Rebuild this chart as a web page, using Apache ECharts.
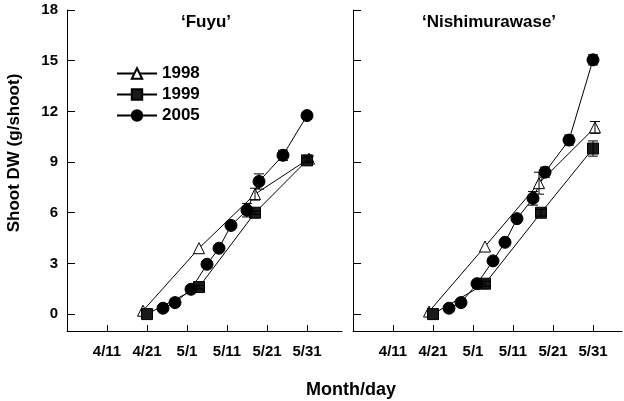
<!DOCTYPE html>
<html>
<head>
<meta charset="utf-8">
<script src="https://cdn.jsdelivr.net/npm/echarts@6/dist/echarts.min.js"></script>
<style>html,body{margin:0;padding:0;background:#fff}#c{width:624px;height:401px}</style>
</head>
<body>
<div id="c"></div>
<script>
// x values are days counted from April 1 (4/1 = 0)
const tickDays = [10, 20, 30, 40, 50, 60];
const tickLabels = ['4/11', '4/21', '5/1', '5/11', '5/21', '5/31'];
const yTicks = [0, 3, 6, 9, 12, 15, 18];
const seriesNames = ['1998', '1999', '2005'];
const panelTitles = ['\u2018Fuyu\u2019', '\u2018Nishimurawase\u2019'];

// 'Fuyu'
const fuyu1998 = [[19, 0.2], [33, 3.9], [47, 7.1], [60.5, 9.2]];
const fuyu1999 = [[20, 0.0], [33, 1.6], [47, 6.0], [60, 9.1]];
const fuyu2005 = [[24, 0.35], [27, 0.68], [31, 1.47], [35, 2.95], [38, 3.9], [41, 5.25], [45, 6.15], [48, 7.85], [54, 9.4], [60, 11.75]];
const fuyuErr1998 = [0, 0, 0.35, 0.15];
const fuyuErr1999 = [0, 0.1, 0.1, 0.15];
const fuyuErr2005 = [0, 0, 0, 0.1, 0.1, 0.1, 0.4, 0.45, 0.3, 0.15];

// 'Nishimurawase'
const nishi1998 = [[19, 0.15], [33, 4.0], [46.5, 7.75], [60.5, 11.05]];
const nishi1999 = [[20, 0.0], [33, 1.8], [47, 6.0], [60, 9.8]];
const nishi2005 = [[24, 0.35], [27, 0.68], [31, 1.8], [35, 3.15], [38, 4.25], [41, 5.65], [45, 6.85], [48, 8.4], [54, 10.3], [60, 15.05]];
const nishiErr1998 = [0, 0, 0.65, 0.35];
const nishiErr1999 = [0, 0.15, 0.2, 0.45];
const nishiErr2005 = [0, 0, 0.1, 0.2, 0.15, 0.2, 0.4, 0.3, 0.3, 0.3];

const FONT = '"Liberation Sans", Arial, sans-serif';
const styles = [
  {symbol: 'triangle', symbolSize: 11, itemStyle: {color: '#fff', borderColor: '#000', borderWidth: 1}},
  {symbol: 'rect', symbolSize: 11, itemStyle: {color: '#1a1a1a', borderColor: '#000', borderWidth: 1}},
  {symbol: 'circle', symbolSize: 12, itemStyle: {color: '#000', borderColor: '#000', borderWidth: 1}}
];

function xAxisFor(idx, max) {
  return {
    type: 'value', gridIndex: idx, min: 0, max: max,
    axisLine: {show: true, onZero: false, lineStyle: {color: '#000', width: 1}},
    axisTick: {show: true, inside: true, length: 6, customValues: tickDays, lineStyle: {color: '#000'}},
    axisLabel: {show: true, customValues: tickDays, margin: 13, color: '#000', fontFamily: FONT, fontWeight: 'bold', fontSize: 15,
      formatter: v => { const i = tickDays.indexOf(v); return i >= 0 ? tickLabels[i] : ''; }},
    splitLine: {show: false}
  };
}
function yAxisFor(idx, showLabels) {
  return {
    type: 'value', gridIndex: idx, min: -1, max: 18,
    axisLine: {show: true, lineStyle: {color: '#000', width: 1}},
    axisTick: {show: true, inside: true, length: 8, customValues: yTicks, lineStyle: {color: '#000'}},
    axisLabel: {show: showLabels, customValues: yTicks, margin: 9, color: '#000', fontFamily: FONT, fontWeight: 'bold', fontSize: 15},
    splitLine: {show: false}
  };
}

function lineSeries(name, data, idx, st) {
  return Object.assign({
    type: 'line', name: name, data: data, xAxisIndex: idx, yAxisIndex: idx,
    lineStyle: {color: '#000', width: 1}, showSymbol: true, z: 3,
    emphasis: {disabled: true}, animation: false, clip: false
  }, st);
}
function errSeries(idx, sets) {
  const data = [];
  sets.forEach(([pts, errs]) => pts.forEach((p, i) => { if (errs[i] > 0) data.push([p[0], p[1], errs[i]]); }));
  return {
    type: 'custom', xAxisIndex: idx, yAxisIndex: idx, data: data, z: 4, silent: true, animation: false,
    renderItem: (params, api) => {
      const x = api.value(0), y = api.value(1), e = api.value(2);
      const top = api.coord([x, y + e]), bot = api.coord([x, y - e]);
      const w = 5, st = {stroke: '#000', lineWidth: 1};
      return {type: 'group', children: [
        {type: 'line', shape: {x1: top[0], y1: top[1], x2: bot[0], y2: bot[1]}, style: st},
        {type: 'line', shape: {x1: top[0] - w, y1: top[1], x2: top[0] + w, y2: top[1]}, style: st},
        {type: 'line', shape: {x1: bot[0] - w, y1: bot[1], x2: bot[0] + w, y2: bot[1]}, style: st}
      ]};
    }
  };
}

const fuyuSets = [[fuyu1998, fuyuErr1998], [fuyu1999, fuyuErr1999], [fuyu2005, fuyuErr2005]];
const nishiSets = [[nishi1998, nishiErr1998], [nishi1999, nishiErr1999], [nishi2005, nishiErr2005]];

const series = [];
fuyuSets.forEach((s, i) => series.push(lineSeries(seriesNames[i], s[0], 0, styles[i])));
nishiSets.forEach((s, i) => series.push(lineSeries(seriesNames[i], s[0], 1, styles[i])));
series.push(errSeries(0, fuyuSets));
series.push(errSeries(1, nishiSets));

const chart = echarts.init(document.getElementById('c'), null, {renderer: 'canvas'});
chart.setOption({
  animation: false,
  backgroundColor: '#fff',
  grid: [
    {left: 67, top: 10, width: 275, height: 321},
    {left: 353, top: 10, width: 269, height: 321}
  ],
  xAxis: [xAxisFor(0, 68.75), xAxisFor(1, 67.25)],
  yAxis: [yAxisFor(0, true), yAxisFor(1, false)],
  legend: {
    data: seriesNames, orient: 'vertical', left: 111, top: 60,
    itemWidth: 40, itemHeight: 13, itemGap: 4, selectedMode: false,
    textStyle: {fontFamily: FONT, fontWeight: 'bold', fontSize: 17, color: '#000', lineHeight: 17}
  },
  graphic: [
    {type: 'text', x: 206, y: 22, style: {text: panelTitles[0], font: 'bold 17px ' + FONT, fill: '#000', textAlign: 'center', textVerticalAlign: 'middle'}},
    {type: 'text', x: 489, y: 22, style: {text: panelTitles[1], font: 'bold 17px ' + FONT, fill: '#000', textAlign: 'center', textVerticalAlign: 'middle'}},
    {type: 'text', x: 351, y: 390, style: {text: 'Month/day', font: 'bold 18px ' + FONT, fill: '#000', textAlign: 'center', textVerticalAlign: 'middle'}},
    {type: 'text', x: 14, y: 153, rotation: Math.PI / 2, style: {text: 'Shoot DW (g/shoot)', font: 'bold 17px ' + FONT, fill: '#000', textAlign: 'center', textVerticalAlign: 'middle'}}
  ],
  series: series
});
</script>
</body>
</html>
